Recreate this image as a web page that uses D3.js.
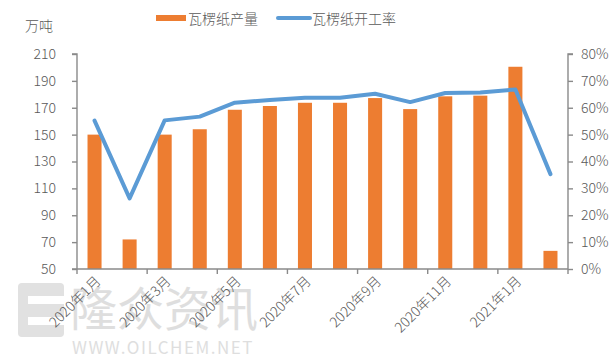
<!DOCTYPE html>
<html><head><meta charset="utf-8">
<script src="https://cdn.jsdelivr.net/npm/d3@7"></script>
<style>
html,body{margin:0;padding:0;background:#fff;}
svg{display:block;}
text{font-family:"Noto Sans CJK SC","Liberation Sans",sans-serif;}
</style></head>
<body>
<svg id="c" width="615" height="358"></svg>
<script>
const categories = ["2020年1月","2020年2月","2020年3月","2020年4月","2020年5月","2020年6月","2020年7月","2020年8月","2020年9月","2020年10月","2020年11月","2020年12月","2021年1月","2021年2月"];
const production = [150, 72, 150, 154, 168.5, 171.3, 173.7, 173.7, 177.2, 169, 178.5, 179, 200.5, 63.5];
const operatingRate = [0.552, 0.263, 0.553, 0.567, 0.619, 0.629, 0.637, 0.637, 0.652, 0.621, 0.655, 0.657, 0.668, 0.353];
const leftTicks = [50, 70, 90, 110, 130, 150, 170, 190, 210];
const rightTicks = [0, 0.1, 0.2, 0.3, 0.4, 0.5, 0.6, 0.7, 0.8];
const seriesNames = ["瓦楞纸产量", "瓦楞纸开工率"];
const unitLabel = "万吨";

const svg = d3.select("#c");
const L = 77, R = 568, T = 54, B = 269;
const axisColor = "#8a8a8a", textColor = "#595959";
const orange = "#ED7D31", blue = "#5B9BD5";

// watermark
const wm = svg.append("g").attr("opacity", 0.55);
wm.append("rect").attr("x", 18).attr("y", 283).attr("width", 46).attr("height", 54).attr("rx", 4).attr("fill", "#c9c9c9");
wm.append("rect").attr("x", 28).attr("y", 296).attr("width", 36).attr("height", 8).attr("fill", "#fff");
wm.append("rect").attr("x", 28).attr("y", 317).attr("width", 36).attr("height", 8).attr("fill", "#fff");
wm.append("text").attr("x", 70).attr("y", 326).attr("font-size", 47).attr("fill", "#c4c4c4").text("隆众资讯");
wm.append("text").attr("x", 72).attr("y", 354).attr("font-size", 17).attr("letter-spacing", 1.5)
  .attr("fill", "#c4c4c4").attr("font-family", "Liberation Sans, sans-serif").text("WWW.OILCHEM.NET");

const x = d3.scaleBand().domain(categories).range([L, R]).paddingInner(0.6).paddingOuter(0.3);
const yL = d3.scaleLinear().domain([50, 210]).range([B, T]);
const yR = d3.scaleLinear().domain([0, 0.8]).range([B, T]);
const step = x.step(), bw = x.bandwidth();
const cx = c => x(c) + bw / 2;

// bars
svg.append("g").selectAll("rect").data(categories).join("rect")
  .attr("x", d => x(d)).attr("width", bw)
  .attr("y", (d, i) => yL(production[i]))
  .attr("height", (d, i) => B - yL(production[i]))
  .attr("fill", orange);

// left axis
const gl = svg.append("g").attr("transform", `translate(${L},0)`)
  .call(d3.axisLeft(yL).tickValues(leftTicks).tickSize(5).tickPadding(16).tickFormat(d3.format("d")));
gl.select(".domain").attr("stroke", axisColor).attr("stroke-width", 1.4).attr("d", `M-5,${T}H0V${B}`);
gl.selectAll(".tick line").attr("stroke", axisColor).attr("stroke-width", 1.4);
gl.selectAll(".tick text").attr("fill", textColor).attr("font-size", 14).attr("font-weight", 300);

// right axis
const gr = svg.append("g").attr("transform", `translate(${R},0)`)
  .call(d3.axisRight(yR).tickValues(rightTicks).tickSize(5).tickPadding(8).tickFormat(d3.format(".0%")));
gr.select(".domain").attr("stroke", axisColor).attr("stroke-width", 1.4).attr("d", `M5,${T}H0V${B}`);
gr.selectAll(".tick line").attr("stroke", axisColor).attr("stroke-width", 1.4);
gr.selectAll(".tick text").attr("fill", textColor).attr("font-size", 14).attr("font-weight", 300);

// x axis line and ticks every two categories
const gx = svg.append("g");
gx.append("line").attr("x1", L - 5).attr("x2", R).attr("y1", B).attr("y2", B)
  .attr("stroke", axisColor).attr("stroke-width", 1.4);
const tickIdx = categories.map((c, i) => i).filter(i => i % 2 === 0);
const tickPos = tickIdx.map(i => x(categories[i]) - (step - bw) / 2).concat([R]);
gx.selectAll("line.t").data(tickPos).join("line").attr("class", "t")
  .attr("x1", d => d).attr("x2", d => d).attr("y1", B).attr("y2", B + 5)
  .attr("stroke", axisColor).attr("stroke-width", 1.4);
gx.selectAll("text").data(tickIdx).join("text")
  .attr("transform", i => `translate(${cx(categories[i]) + 7},${B + 13}) rotate(-45)`)
  .attr("text-anchor", "end").attr("font-size", 14).attr("font-weight", 300)
  .attr("fill", textColor).text(i => categories[i]);

// line
const line = d3.line().x((d, i) => cx(categories[i])).y(d => yR(d));
svg.append("path").datum(operatingRate).attr("d", line)
  .attr("fill", "none").attr("stroke", blue).attr("stroke-width", 4)
  .attr("stroke-linejoin", "round").attr("stroke-linecap", "round");

// unit label
svg.append("text").attr("x", 25).attr("y", 31).attr("font-size", 14).attr("font-weight", 300)
  .attr("fill", textColor).text(unitLabel);

// legend
const lg = svg.append("g");
lg.append("rect").attr("x", 156).attr("y", 15).attr("width", 30).attr("height", 6).attr("fill", orange);
lg.append("text").attr("x", 188).attr("y", 24).attr("font-size", 14).attr("font-weight", 300).attr("fill", textColor).text(seriesNames[0]);
lg.append("line").attr("x1", 278).attr("x2", 310).attr("y1", 18).attr("y2", 18)
  .attr("stroke", blue).attr("stroke-width", 4).attr("stroke-linecap", "round");
lg.append("text").attr("x", 312).attr("y", 24).attr("font-size", 14).attr("font-weight", 300).attr("fill", textColor).text(seriesNames[1]);
</script>
</body></html>
